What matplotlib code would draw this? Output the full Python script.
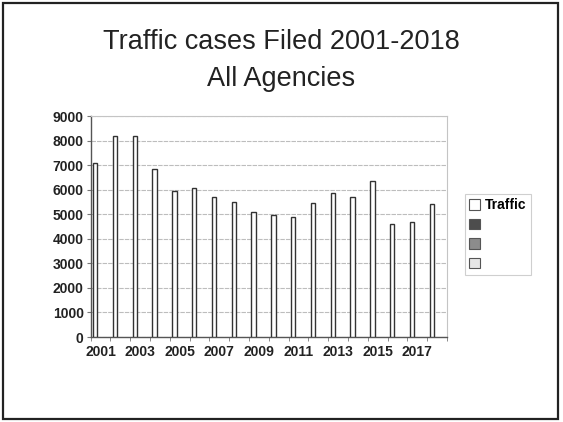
import numpy as np
import matplotlib.pyplot as plt
from matplotlib.patches import Rectangle, Patch

years = list(range(2001, 2019))
traffic = [7100, 8200, 8200, 6850, 5950, 6050, 5700, 5500, 5100,
           4950, 4900, 5450, 5850, 5700, 6350, 4600, 4700, 5400]
tick_years = [str(y) if y % 2 == 1 else "" for y in years]
legend_labels = ["Traffic", "", "", ""]
legend_colors = ["white", "#4d4d4d", "#8c8c8c", "#e6e6e6"]

plt.rcParams['font.family'] = ['Liberation Sans', 'DejaVu Sans']

fig = plt.figure(figsize=(5.63, 4.22), dpi=100)
ax = fig.add_axes([0.161, 0.2014, 0.633, 0.5236])

# outer frame around the whole chart
fig.patches.append(Rectangle((0.006, 0.008), 0.986, 0.984, transform=fig.transFigure,
                             fill=False, edgecolor='#222222', linewidth=1.6))

x = np.arange(len(years))
# clustered layout: traffic is the first of four series, others empty
ax.bar(x - 0.27, traffic, width=0.22, color='white', edgecolor='#333333',
       linewidth=1.0, zorder=3)

ax.set_xlim(-0.5, len(years) - 0.5)
ax.set_ylim(0, 9000)
ax.set_yticks(np.arange(0, 9001, 1000))
ax.yaxis.grid(True, color='#bdbdbd', linewidth=0.8, linestyle=(0, (4, 1)), zorder=0)

ax.set_xticks(x)
ax.set_xticklabels(tick_years)
ax.set_xticks(np.arange(-0.5, len(years)), minor=True)
ax.tick_params(axis='x', which='major', length=0, pad=6)
ax.tick_params(axis='x', which='minor', length=3, color='#777777')
ax.tick_params(axis='y', length=3, color='#777777', pad=2)
for lab in ax.get_xticklabels() + ax.get_yticklabels():
    lab.set_fontsize(10)
    lab.set_fontweight('bold')
    lab.set_color('#222222')

for side in ['top', 'right']:
    ax.spines[side].set_color('#c4c4c4')
    ax.spines[side].set_linewidth(0.8)
for side in ['left', 'bottom']:
    ax.spines[side].set_color('#555555')
    ax.spines[side].set_linewidth(1.0)

fig.text(0.5, 0.857, "Traffic cases Filed 2001-2018\nAll Agencies", ha='center', va='center',
         fontsize=19.5, linespacing=1.55, color='#222222')

handles = [Patch(facecolor=c, edgecolor='#555555', linewidth=0.8) for c in legend_colors]
leg = fig.legend(handles, legend_labels, loc='upper left', bbox_to_anchor=(0.826, 0.54),
                 frameon=True, fancybox=False, handlelength=0.8, handleheight=0.8,
                 handletextpad=0.35, labelspacing=0.4, borderpad=0.3, borderaxespad=0,
                 prop={'size': 10, 'weight': 'bold'})
leg.get_frame().set_edgecolor('#c4c4c4')
leg.get_frame().set_linewidth(0.8)

fig.savefig('out.png', dpi=100)
